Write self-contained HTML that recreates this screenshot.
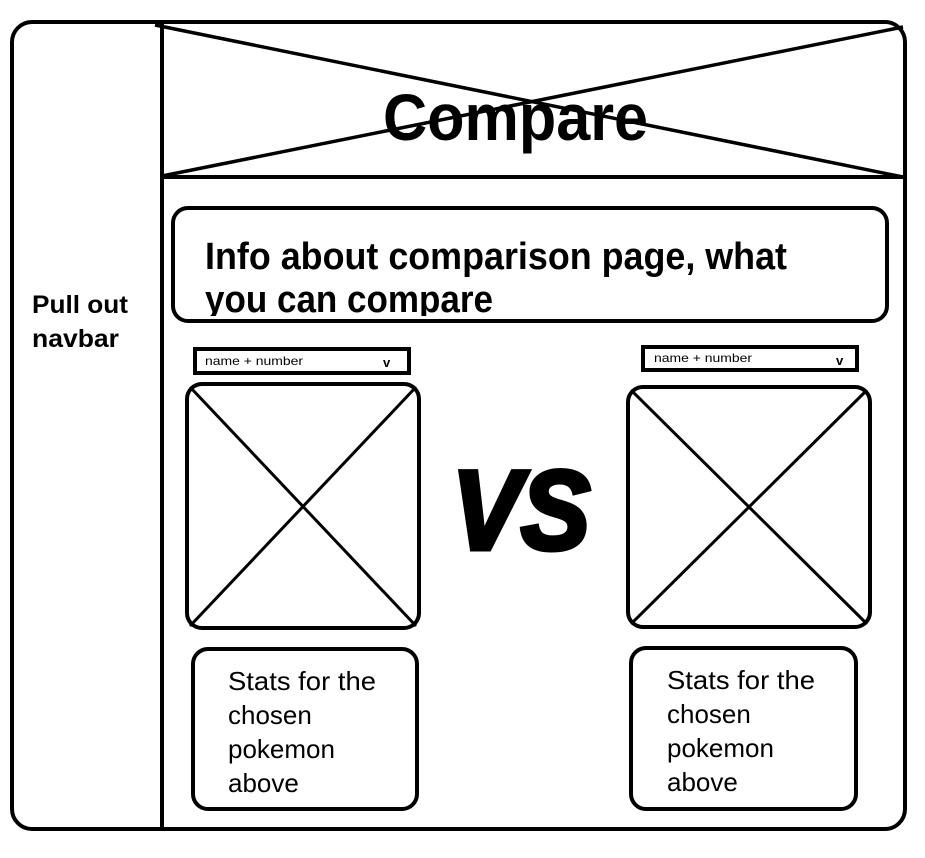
<!DOCTYPE html>
<html><head><meta charset="utf-8"><style>html,body{margin:0;padding:0;background:#fff;}svg{display:block;}</style></head>
<body>
<svg width="925" height="858" viewBox="0 0 925 858" xmlns="http://www.w3.org/2000/svg" font-family="Liberation Sans, sans-serif">
<rect width="925" height="858" fill="#fff"/>
<g fill="none" stroke="#000" stroke-width="4">
<rect x="12" y="22" width="893" height="807" rx="20"/>
<line x1="162" y1="22" x2="162" y2="829"/>
<line x1="162" y1="177" x2="905" y2="177"/>
<line x1="155" y1="25" x2="903" y2="177" stroke-width="3.5"/>
<line x1="903" y1="27" x2="162" y2="176" stroke-width="3.5"/>
<rect x="173" y="208" width="714" height="113" rx="15"/>
<rect x="195" y="349" width="214" height="24"/>
<rect x="643" y="347" width="214" height="23"/>
<rect x="187" y="384" width="232" height="244" rx="15"/>
<line x1="190" y1="387" x2="416" y2="626" stroke-width="3"/>
<line x1="416" y1="387" x2="190" y2="626" stroke-width="3"/>
<rect x="628" y="387" width="242" height="240" rx="15"/>
<line x1="631" y1="390" x2="867" y2="624" stroke-width="3"/>
<line x1="867" y1="390" x2="631" y2="624" stroke-width="3"/>
<rect x="193" y="649" width="224" height="160" rx="15"/>
<rect x="631" y="648" width="225" height="161" rx="15"/>
</g>
<text x="383" y="140" font-size="66" font-weight="bold" textLength="265" lengthAdjust="spacingAndGlyphs">Compare</text>
<defs><clipPath id="c"><rect x="175" y="210" width="710" height="106"/></clipPath></defs>
<g clip-path="url(#c)" font-size="38" font-weight="bold">
<text x="205" y="269" textLength="582" lengthAdjust="spacingAndGlyphs">Info about comparison page, what</text>
<text x="205" y="312" textLength="288" lengthAdjust="spacingAndGlyphs">you can compare</text>
</g>
<text x="32" y="313" font-size="25" font-weight="bold" textLength="96" lengthAdjust="spacingAndGlyphs">Pull out</text>
<text x="32" y="347" font-size="25" font-weight="bold" textLength="87" lengthAdjust="spacingAndGlyphs">navbar</text>
<text x="205" y="365" font-size="12" textLength="98" lengthAdjust="spacingAndGlyphs">name + number</text>
<text x="383" y="367" font-size="13" font-weight="bold">v</text>
<text x="654" y="362" font-size="12" textLength="98" lengthAdjust="spacingAndGlyphs">name + number</text>
<text x="836" y="365" font-size="13" font-weight="bold">v</text>
<text x="452" y="549" font-size="112" font-weight="bold" font-style="italic" textLength="138" lengthAdjust="spacingAndGlyphs" stroke="#000" stroke-width="5">VS</text>
<g font-size="26">
<text x="228" y="690" textLength="148" lengthAdjust="spacingAndGlyphs">Stats for the</text>
<text x="228" y="724">chosen</text>
<text x="228" y="758">pokemon</text>
<text x="228" y="792">above</text>
<text x="667" y="689" textLength="148" lengthAdjust="spacingAndGlyphs">Stats for the</text>
<text x="667" y="723">chosen</text>
<text x="667" y="757">pokemon</text>
<text x="667" y="791">above</text>
</g>
</svg>
</body></html>
